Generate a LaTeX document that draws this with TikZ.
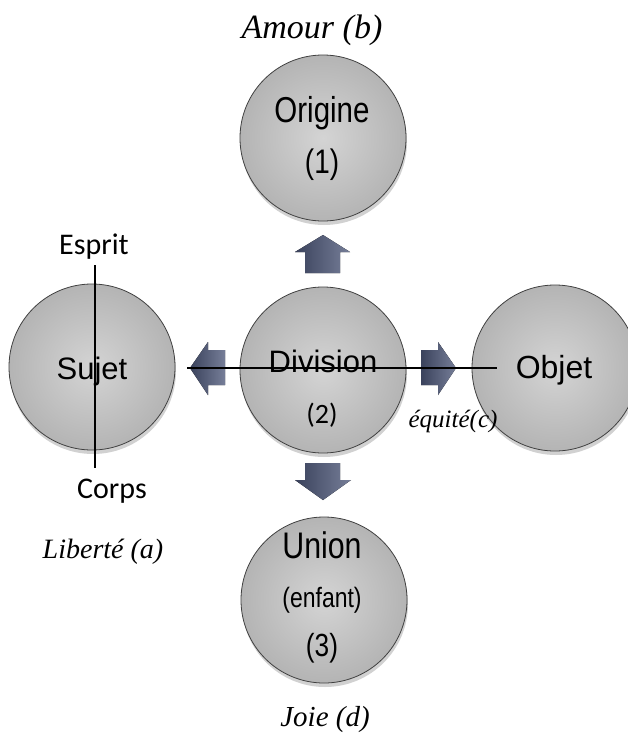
\documentclass[tikz,border=0pt]{standalone}
\usepackage{fontspec}
\setmainfont{Liberation Serif}
\newfontfamily\narrowA[FakeStretch=0.82]{Liberation Sans}
\newfontfamily\normA{Liberation Sans}
\newfontfamily\calib{Carlito}
\usetikzlibrary{shadows}
\definecolor{arrowdark}{RGB}{58,66,92}
\definecolor{arrowlight}{RGB}{118,126,152}
\definecolor{ballin}{RGB}{212,212,212}
\definecolor{ballout}{RGB}{180,180,180}
\tikzset{
  ball/.style={circle, draw=black!75, line width=0.8pt, minimum size=166pt, inner sep=0pt,
    shading=radial, inner color=ballin, outer color=ballout,
    drop shadow={shadow xshift=1pt, shadow yshift=-4pt, opacity=0.18, fill=black}},
  blockarrow/.style={left color=arrowdark, right color=arrowlight, draw=none},
  barline/.style={draw=black, line width=1.7pt},
  lab/.style={inner sep=0pt, anchor=base},
  itl/.style={inner sep=0pt, anchor=base, font=\itshape},
}
\begin{document}
\begin{tikzpicture}[x=1pt, y=-1pt]
\useasboundingbox (0,0) rectangle (628,736);
\fill[white] (0,0) rectangle (628,736);
\clip (0,0) rectangle (628,736);

% circles
\node[ball] (origine) at (323,138) {};
\node[ball] (sujet) at (92,367) {};
\node[ball] (division) at (323,370) {};
\node[ball] (objet) at (555,368) {};
\node[ball] (union) at (324,600) {};

% texts in circles
\node[lab, font=\narrowA\fontsize{36}{36}\selectfont] (tOrig) at (322,122) {Origine};
\node[lab, font=\narrowA\fontsize{34}{34}\selectfont] (tOrig1) at (322,173) {(1)};
\node[lab, font=\normA\fontsize{31}{31}\selectfont] (tSujet) at (92,379) {Sujet};
\node[lab, font=\normA\fontsize{31}{31}\selectfont] (tDiv) at (323,372) {Division};
\node[lab, font=\calib\fontsize{28}{28}\selectfont] (tDiv2) at (322,423) {(2)};
\node[lab, font=\normA\fontsize{32}{32}\selectfont] (tObjet) at (554,378) {Objet};
\node[lab, font=\narrowA\fontsize{37}{37}\selectfont] (tUnion) at (322,558) {Union};
\node[lab, font=\narrowA\fontsize{28}{28}\selectfont] (tEnf) at (322,607) {(enfant)};
\node[lab, font=\narrowA\fontsize{32}{32}\selectfont] (tUn3) at (322,656) {(3)};

% outer labels
\node[lab, font=\calib\fontsize{30}{30}\selectfont] (esprit) at (94,254) {Esprit};
\node[lab, font=\calib\fontsize{30}{30}\selectfont] (corps) at (112,498) {Corps};
\node[itl, font=\itshape\fontsize{34}{34}\selectfont] (amour) at (312,38) {Amour (b)};
\node[itl, font=\itshape\fontsize{28}{28}\selectfont] (liberte) at (103,558) {Liberté (a)};
\node[itl, font=\itshape\fontsize{29}{29}\selectfont] (joie) at (325,726) {Joie (d)};
\node[itl, font=\itshape\fontsize{25}{25}\selectfont] (equite) at (453,427) {équité(c)};

% block arrows
\fill[blockarrow] (323,235) -- (350,252) -- (340,252) -- (340,273) -- (305,273) -- (305,252) -- (295,252) -- cycle;
\fill[blockarrow] (323,500) -- (351,480) -- (340,480) -- (340,463) -- (305,463) -- (305,480) -- (295,480) -- cycle;
\fill[blockarrow] (190,368) -- (208,342) -- (208,350) -- (225,350) -- (225,385) -- (208,385) -- (208,395) -- cycle;
\fill[blockarrow] (456,368) -- (438,342) -- (438,350) -- (421,350) -- (421,385) -- (438,385) -- (438,395) -- cycle;

% lines
\coordinate (hl) at (187,368);
\coordinate (hr) at (497,368);
\coordinate (vt) at (95,265);
\coordinate (vb) at (95,468);
\draw[barline] (hl) -- (hr);
\draw[barline] (vt) -- (vb);
\end{tikzpicture}
\end{document}
